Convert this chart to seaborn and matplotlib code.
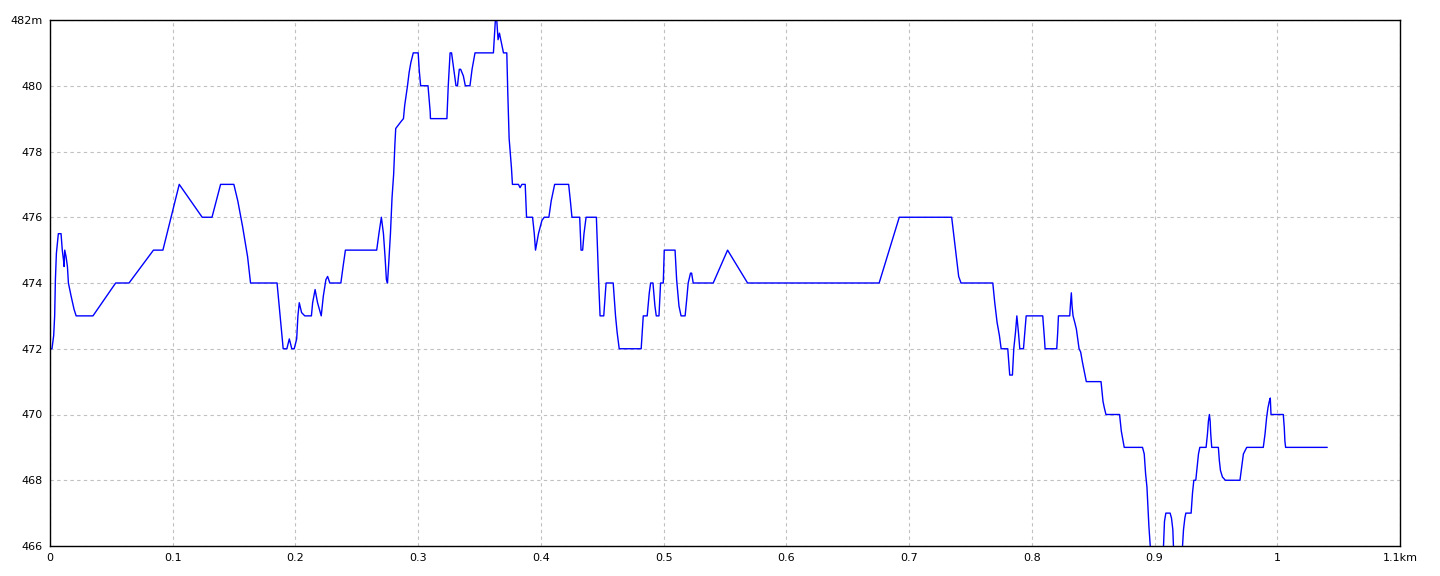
import matplotlib
matplotlib.use("Agg")
import matplotlib.pyplot as plt
import seaborn as sns
import pandas as pd

# elevation profile
dist_km = [
    0.0, 0.0016, 0.003, 0.0038, 0.0044, 0.0052, 0.0063, 0.0068, 0.009, 0.010,
    0.011, 0.0115, 0.012, 0.0131, 0.0142, 0.015, 0.0172, 0.0196, 0.0213, 0.035,
    0.0535, 0.0644, 0.0843, 0.092, 0.1053, 0.124, 0.132, 0.139, 0.1498, 0.153,
    0.157, 0.161, 0.1634, 0.185, 0.186, 0.188, 0.1895, 0.19, 0.193, 0.195,
    0.197, 0.199, 0.201, 0.202, 0.2031, 0.205, 0.2076, 0.213, 0.214, 0.216,
    0.218, 0.221, 0.2227, 0.2248, 0.2262, 0.228, 0.237, 0.2388, 0.2407, 0.2662,
    0.268, 0.270, 0.2717, 0.273, 0.2741, 0.275, 0.276, 0.2774, 0.2787, 0.280,
    0.281, 0.2817, 0.2837, 0.2858, 0.288, 0.289, 0.2905, 0.2913, 0.2926, 0.294,
    0.296, 0.300, 0.3008, 0.302, 0.308, 0.3098, 0.310, 0.3234, 0.3245, 0.326,
    0.3272, 0.329, 0.3308, 0.332, 0.3335, 0.3346, 0.3368, 0.3384, 0.3422, 0.3439,
    0.3463, 0.3613, 0.3621, 0.3629, 0.364, 0.3651, 0.3662, 0.3676, 0.3695, 0.3722,
    0.373, 0.3741, 0.3752, 0.376, 0.3768, 0.3817, 0.383, 0.3845, 0.3872, 0.3883,
    0.3932, 0.3946, 0.3956, 0.398, 0.4008, 0.4027, 0.4065, 0.4084, 0.4112, 0.4226,
    0.424, 0.4253, 0.4316, 0.4327, 0.434, 0.4351, 0.4368, 0.4452, 0.4463, 0.4471,
    0.4482, 0.4512, 0.4531, 0.4589, 0.4608, 0.4621, 0.4638, 0.4817, 0.4834, 0.4866,
    0.4883, 0.4894, 0.4913, 0.4929, 0.494, 0.4962, 0.4975, 0.4997, 0.5005, 0.5093,
    0.5106, 0.5125, 0.5142, 0.5175, 0.5188, 0.52, 0.5219, 0.5228, 0.5241, 0.5404,
    0.5521, 0.5684, 0.6756, 0.692, 0.7347, 0.7363, 0.7385, 0.7404, 0.7423, 0.7682,
    0.7698, 0.7717, 0.7736, 0.775, 0.7804, 0.7812, 0.782, 0.7842, 0.7853, 0.7867,
    0.7878, 0.7891, 0.7902, 0.7932, 0.7943, 0.7954, 0.8089, 0.8103, 0.8108, 0.8203,
    0.8211, 0.8217, 0.8309, 0.8314, 0.8322, 0.8328, 0.8336, 0.835, 0.8363, 0.8374,
    0.8385, 0.8398, 0.8412, 0.8428, 0.8444, 0.8564, 0.858, 0.8591, 0.8604, 0.8715,
    0.8729, 0.8743, 0.8753, 0.8902, 0.8916, 0.8927, 0.8938, 0.8946, 0.8954, 0.8965,
    0.898, 0.905, 0.9073, 0.9081, 0.9092, 0.9127, 0.9138, 0.9149, 0.9154, 0.917,
    0.921, 0.9228, 0.9236, 0.9247, 0.9255, 0.9298, 0.9309, 0.932, 0.9336, 0.9347,
    0.9358, 0.9369, 0.942, 0.9431, 0.9439, 0.9447, 0.9453, 0.9458, 0.9466, 0.952,
    0.9528, 0.9537, 0.9553, 0.9577, 0.9696, 0.971, 0.9724, 0.9751, 0.9886, 0.99,
    0.9913, 0.9924, 0.9935, 0.9943, 0.9949, 1.0049, 1.0057, 1.0062, 1.0068, 1.0407,
]
elev_m = [
    472, 472, 472.4, 473, 474.1, 474.9, 475.3, 475.5, 475.5, 475,
    474.7, 474.5, 475, 474.8, 474.5, 474, 473.6, 473.2, 473, 473,
    474, 474, 475, 475, 477, 476, 476, 477, 477, 476.5,
    475.7, 474.8, 474, 474, 473.6, 472.8, 472.2, 472, 472, 472.3,
    472, 472, 472.3, 473, 473.4, 473.1, 473, 473, 473.4, 473.8,
    473.4, 473, 473.6, 474.1, 474.2, 474, 474, 474.5, 475, 475,
    475.5, 476, 475.5, 474.8, 474.1, 474, 474.6, 475.5, 476.6, 477.3,
    478.2, 478.7, 478.8, 478.9, 479, 479.4, 479.8, 480, 480.4, 480.7,
    481, 481, 480.5, 480, 480, 479.2, 479, 479, 480, 481,
    481, 480.5, 480, 480, 480.5, 480.5, 480.3, 480, 480, 480.5,
    481, 481, 481.5, 482, 482, 481.4, 481.6, 481.35, 481, 481,
    479.8, 478.4, 477.9, 477.5, 477, 477, 476.9, 477, 477, 476,
    476, 475.5, 475, 475.5, 475.9, 476, 476, 476.5, 477, 477,
    476.5, 476, 476, 475, 475, 475.5, 476, 476, 474.8, 474,
    473, 473, 474, 474, 473, 472.5, 472, 472, 473, 473,
    473.7, 474, 474, 473.3, 473, 473, 474, 474, 475, 475,
    474.1, 473.3, 473, 473, 473.5, 474, 474.3, 474.3, 474, 474,
    475, 474, 474, 476, 476, 475.5, 474.8, 474.2, 474, 474,
    473.4, 472.8, 472.4, 472, 472, 471.6, 471.2, 471.2, 472, 472.5,
    473, 472.5, 472, 472, 472.5, 473, 473, 472.3, 472, 472,
    472.5, 473, 473, 473.3, 473.7, 473.3, 473, 472.8, 472.6, 472.3,
    472, 471.9, 471.6, 471.3, 471, 471, 470.4, 470.2, 470, 470,
    469.5, 469.2, 469, 469, 468.8, 468.2, 467.8, 467.2, 466.6, 466,
    465.3, 465.3, 466, 466.75, 467, 467, 466.85, 466.5, 466, 465.5,
    465.5, 466, 466.5, 466.85, 467, 467, 467.6, 468, 468, 468.4,
    468.8, 469, 469, 469.4, 469.8, 470, 469.8, 469.4, 469, 469,
    468.6, 468.3, 468.1, 468, 468, 468.4, 468.8, 469, 469, 469.4,
    469.9, 470.2, 470.4, 470.5, 470, 470, 469.6, 469.2, 469, 469,
]

x_ticks = [0, 0.1, 0.2, 0.3, 0.4, 0.5, 0.6, 0.7, 0.8, 0.9, 1.0, 1.1]
x_labels = ["0", "0.1", "0.2", "0.3", "0.4", "0.5", "0.6", "0.7", "0.8", "0.9", "1", "1.1km"]
y_ticks = [466, 468, 470, 472, 474, 476, 478, 480, 482]
y_labels = ["466", "468", "470", "472", "474", "476", "478", "480", "482m"]

df = pd.DataFrame({"dist": dist_km, "elev": elev_m})

sns.set_style("white")
plt.rcParams["font.family"] = ["DejaVu Sans"]

fig = plt.figure(figsize=(14.4, 5.76), dpi=100)
ax = fig.add_axes([50 / 1440, 1 - 546 / 576, 1350 / 1440, 526 / 576])

sns.lineplot(data=df, x="dist", y="elev", ax=ax, color="#0000ff",
             linewidth=1.0, sort=False, estimator=None)

ax.set_xlim(0, 1.1)
ax.set_ylim(466, 482)
ax.set_xticks(x_ticks)
ax.set_xticklabels(x_labels)
ax.set_yticks(y_ticks)
ax.set_yticklabels(y_labels)
ax.tick_params(axis="both", length=0, labelsize=8, colors="black", pad=5)
ax.set_xlabel("")
ax.set_ylabel("")

ax.grid(True, color="#c0c0c0", linestyle=(0, (3, 3)), linewidth=0.8)
for s in ax.spines.values():
    s.set_color("black")
    s.set_linewidth(1.0)

fig.savefig("out.png", dpi=100, facecolor="white")
